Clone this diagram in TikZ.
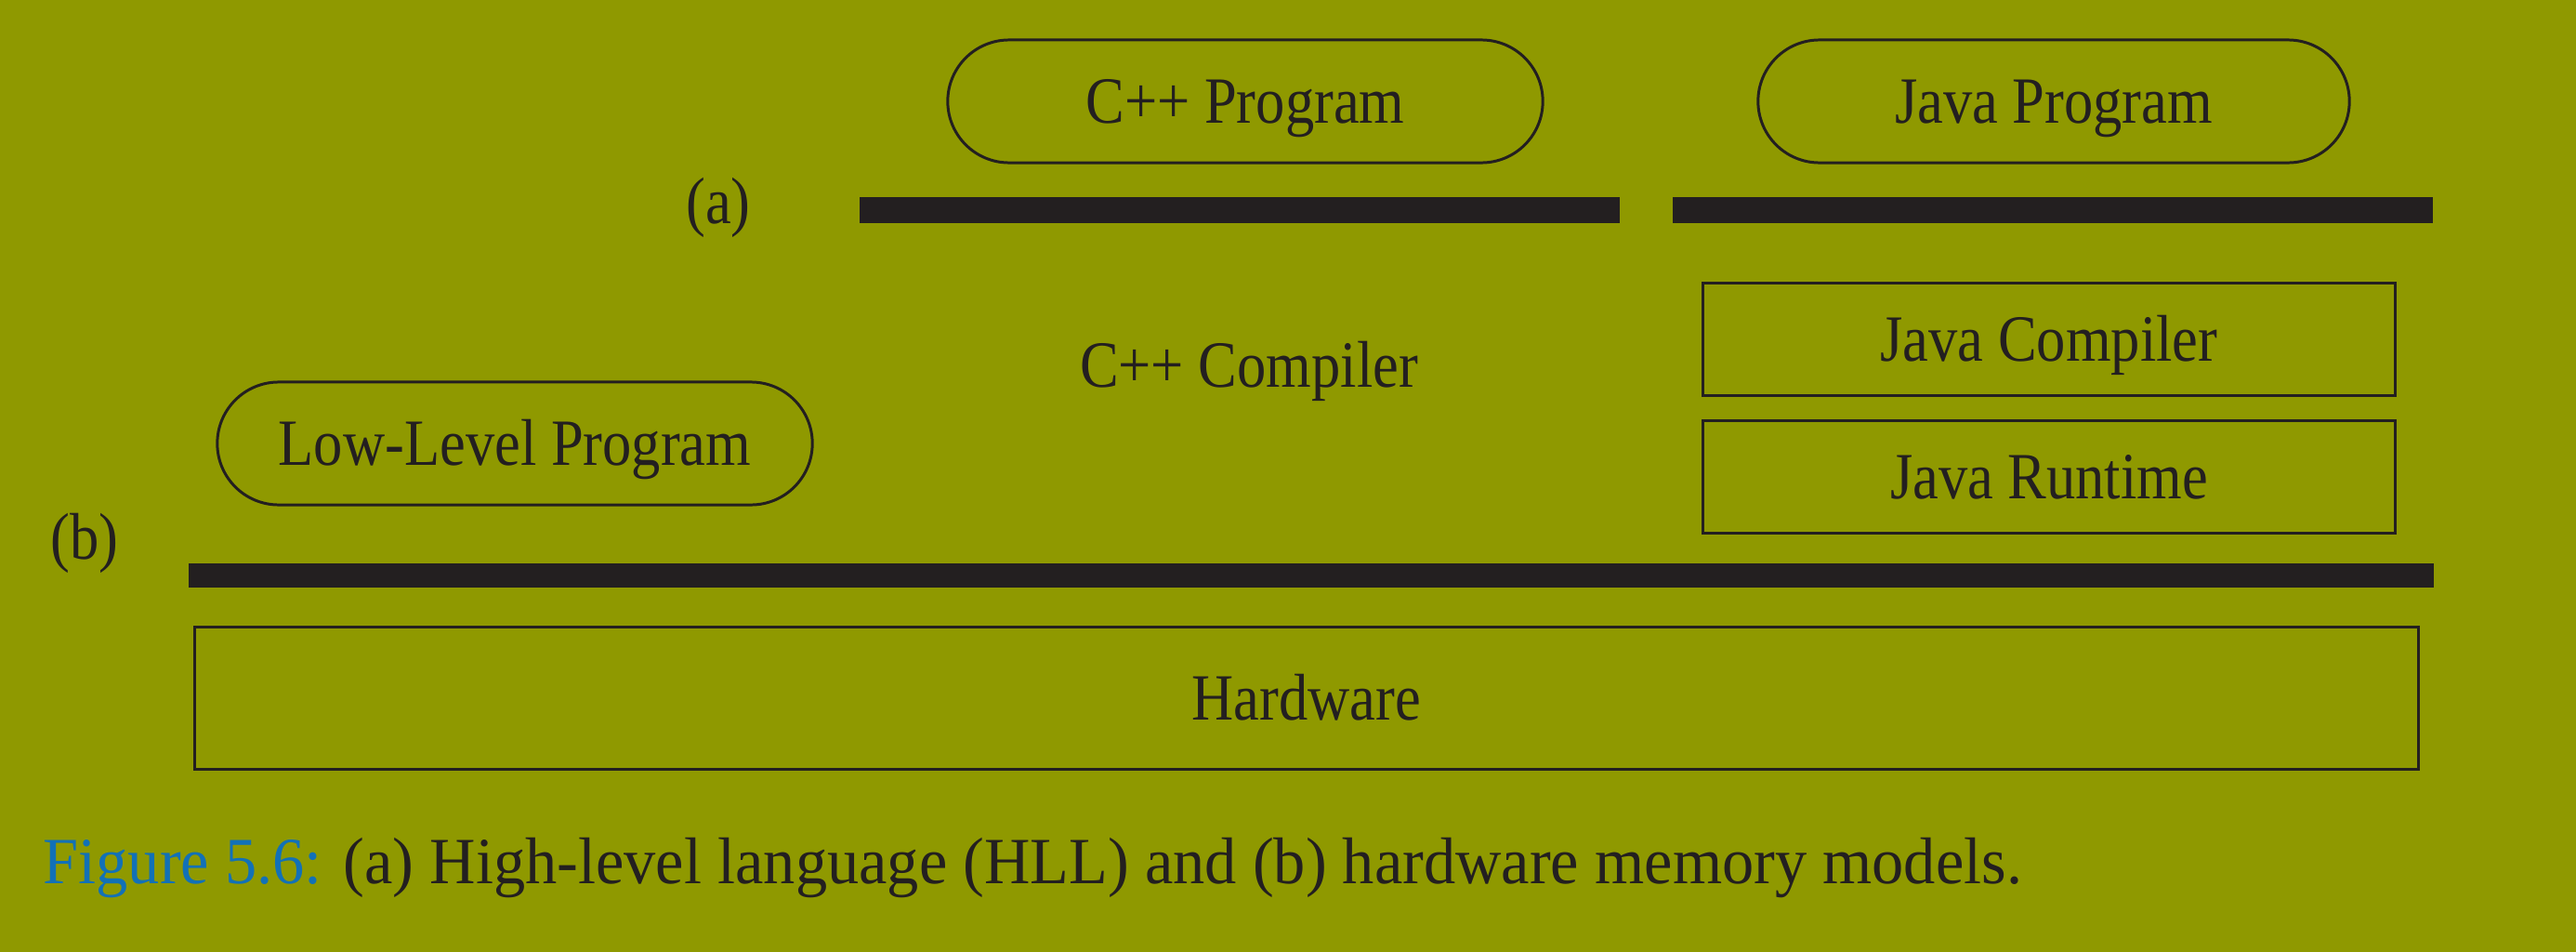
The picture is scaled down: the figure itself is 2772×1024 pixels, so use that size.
\documentclass[tikz,border=0pt]{standalone}
\usepackage{fontspec}
\setmainfont{Liberation Serif}[FakeStretch=0.88]
\newfontfamily\captionfont{Liberation Serif}[FakeStretch=0.963]
\usetikzlibrary{positioning, shapes.misc}
\definecolor{olivebg}{RGB}{143,153,0}
\definecolor{inkdark}{RGB}{35,31,32}
\definecolor{figblue}{RGB}{18,113,183}
\tikzset{
  layer text/.style={font=\fontsize{20.2}{24}\selectfont, text=inkdark,
    text height=13.4pt, text depth=0pt, inner sep=0pt},
  prog pill/.style={layer text, rounded rectangle, draw=inkdark,
    line width=0.85pt, minimum height=1.32cm},
  layer box/.style={layer text, rectangle, draw=inkdark,
    line width=0.85pt, minimum height=1.21cm},
  model bar/.style={rectangle, fill=inkdark, draw=none, inner sep=0pt},
}

\begin{document}
\begin{tikzpicture}[x=0.01cm, y=-0.01cm]

\useasboundingbox[fill=olivebg] (0,0) rectangle (2772,1024);

% (a) high-level language model
\node[prog pill, minimum width=6.4cm] (cpp prog) at (1340,109) {C++ Program};
\node[prog pill, minimum width=6.36cm] (java prog) at (2210,109) {Java Program};
\node[layer text] (label a) at (773,217) {(a)};
\node[model bar, minimum width=8.18cm, minimum height=0.28cm] (bar cpp) at (1334,226) {};
\node[model bar, minimum width=8.18cm, minimum height=0.28cm] (bar java) at (2209,226) {};

\node[layer text] (cpp comp) at (1344,393) {C++ Compiler};
\node[layer box, minimum width=7.45cm] (java comp) at (2205,365) {Java Compiler};
\node[layer box, minimum width=7.45cm] (java rt) at (2205,513) {Java Runtime};

% (b) hardware model
\node[prog pill, minimum width=6.4cm] (low prog) at (554,477) {Low-Level Program};
\node[layer text] (label b) at (91,578) {(b)};
\node[model bar, minimum width=24.14cm, minimum height=0.26cm] (bar hw) at (1411,619) {};
\node[layer box, minimum width=23.92cm, minimum height=1.52cm] (hardware) at (1406,751) {Hardware};

\node[anchor=base west, inner sep=0pt, text=inkdark,
  font=\captionfont\fontsize{20.2}{24}\selectfont] (caption) at (46,950)
  {\textcolor{figblue}{Figure 5.6:} (a) High-level language (HLL) and (b) hardware memory models.};

\end{tikzpicture}
\end{document}
